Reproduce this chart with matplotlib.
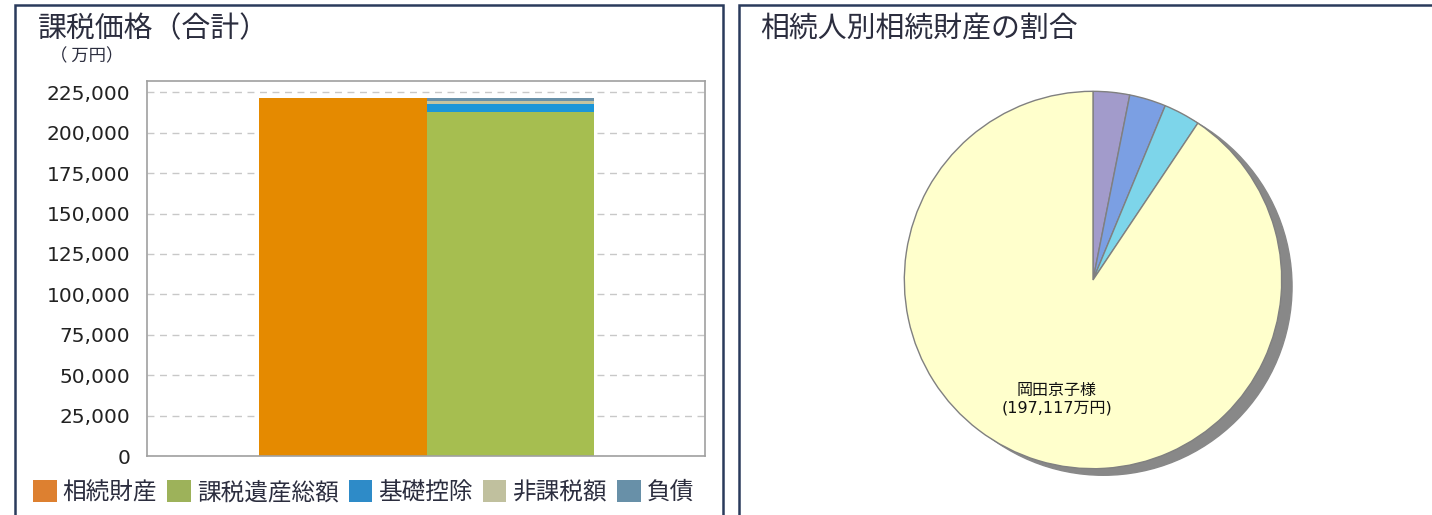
import matplotlib.pyplot as plt
from matplotlib.patches import Patch, Rectangle, Circle

plt.rcParams['font.family'] = ['DejaVu Sans', 'Noto Sans CJK JP']

# bar chart data (万円)
columns = [0, 1]
series_names = ['相続財産', '課税遺産総額', '基礎控除', '非課税額', '負債']
souzoku = [221300, 0]
kazei = [0, 212600]
kiso = [0, 5400]
hikazei = [0, 1900]
fusai = [0, 1400]
bar_colors = ['#E58A00', '#A6BE50', '#1C96D8', '#C4C4A0', '#6890A8']
legend_colors = ['#DD8030', '#9DB25A', '#2E8BC8', '#C0C09E', '#6890A8']
yticks = [0, 25000, 50000, 75000, 100000, 125000, 150000, 175000, 200000, 225000]

# pie data
heirs = ['', '', '', '岡田京子様']
shares = [6800, 6800, 6800, 197117]
pie_colors = ['#A29BCB', '#7B9FE3', '#7DD5EA', '#FFFFCC']

text_color = '#2b2d3e'
frame_color = '#2a3b5c'

fig = plt.figure(figsize=(14.32, 5.15), dpi=100)

# panel frames
fig.patches.append(Rectangle((15 / 1432, -0.05), 708 / 1432, 1.05 - 5 / 515,
                             transform=fig.transFigure, fill=False,
                             edgecolor=frame_color, lw=1.8))
fig.patches.append(Rectangle((739 / 1432, -0.05), 0.5, 1.05 - 5 / 515,
                             transform=fig.transFigure, fill=False,
                             edgecolor=frame_color, lw=1.8))

fig.text(38 / 1432, 1 - 29 / 515, '課税価格（合計）', fontsize=20.8,
         family='Noto Sans CJK JP', color=text_color, va='center')
fig.text(50 / 1432, 1 - 56 / 515, '（ 万円）', fontsize=12.5,
         family='Noto Sans CJK JP', color=text_color, va='center')
fig.text(760 / 1432, 1 - 29 / 515, '相続人別相続財産の割合', fontsize=20.8,
         family='Noto Sans CJK JP', color=text_color, va='center')

# stacked bars
ax = fig.add_axes([147 / 1432, 59 / 515, 558 / 1432, 375 / 515])
ax.bar(columns, souzoku, width=1.0, color=bar_colors[0])
bottom = [0, 0]
for vals, c in zip([kazei, kiso, hikazei, fusai], bar_colors[1:]):
    ax.bar(columns, vals, width=1.0, bottom=bottom, color=c)
    bottom = [b + v for b, v in zip(bottom, vals)]
ax.set_xlim(-1.17, 2.16)
ax.set_ylim(0, 232000)
ax.set_yticks(yticks)
ax.set_yticklabels([f'{v:,}' for v in yticks])
ax.set_xticks([])
ax.tick_params(axis='y', length=0, pad=12, labelsize=14.5, labelcolor='#222222')
ax.grid(axis='y', ls=(0, (5, 4)), color='#c8c8c8', lw=1)
ax.set_axisbelow(True)
for s in ax.spines.values():
    s.set_color('#a0a0a0')
    s.set_linewidth(1.2)

handles = [Patch(facecolor=c) for c in legend_colors]
fig.legend(handles, series_names, loc='center left',
           bbox_to_anchor=(33 / 1432, 1 - 492 / 515), ncol=5, frameon=False,
           handlelength=1.0, handleheight=1.1, handletextpad=0.26,
           columnspacing=0.42, borderaxespad=0, borderpad=0,
           prop={'family': 'Noto Sans CJK JP', 'size': 17},
           labelcolor=text_color)

# pie
pax = fig.add_axes([893 / 1432, 35 / 515, 400 / 1432, 400 / 515])
pax.add_patch(Circle((0.055, -0.035), 1.0, color='#888888', zorder=0))
labels = [f'{n}\n({v:,}万円)' if n else '' for n, v in zip(heirs, shares)]
pax.pie(shares, colors=pie_colors, startangle=90, counterclock=False,
        labels=labels, labeldistance=0.66,
        wedgeprops={'edgecolor': '#808080', 'linewidth': 1.0},
        textprops={'family': ['DejaVu Sans', 'Noto Sans CJK JP'], 'fontsize': 11.5,
                   'ha': 'center', 'va': 'center', 'color': '#111111'})
pax.set_xlim(-1.06, 1.06)
pax.set_ylim(-1.06, 1.06)
pax.set_aspect('equal')
pax.axis('off')

fig.savefig('out.png', dpi=100)
